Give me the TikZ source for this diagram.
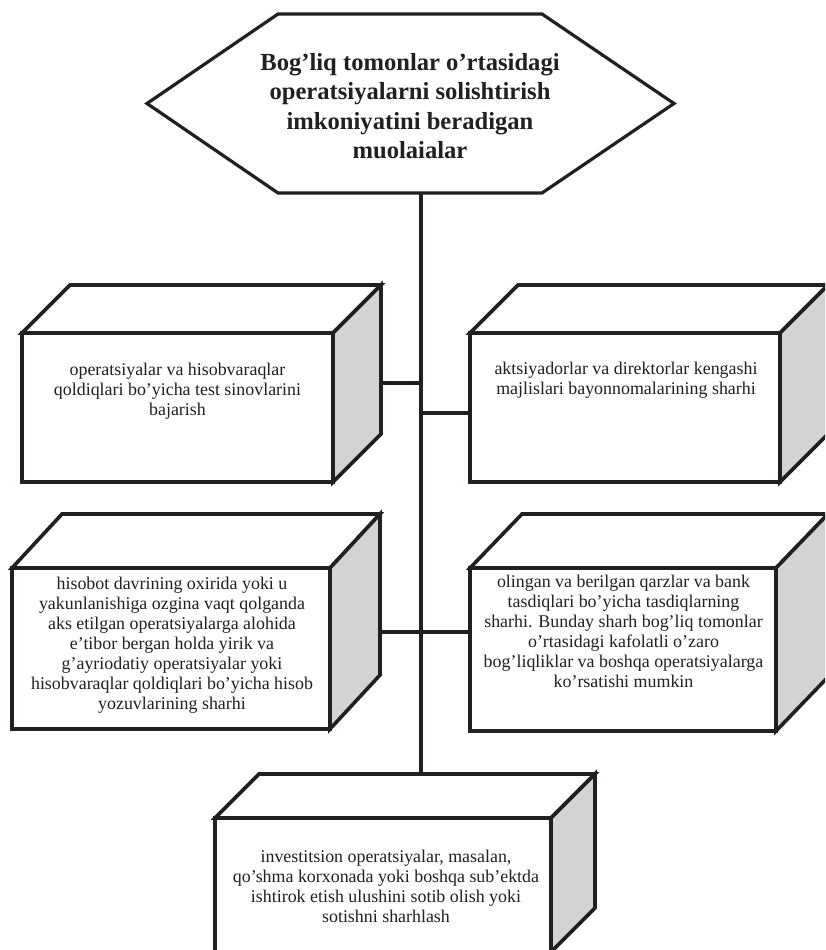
\documentclass[tikz,border=0pt]{standalone}
\usepackage{fontspec}
\setmainfont{Liberation Serif}
\usetikzlibrary{positioning}
\definecolor{ink}{HTML}{231F20}
\definecolor{shade}{RGB}{210,211,213}

\begin{document}
\begin{tikzpicture}[x=1pt, y=-1pt,
    face/.style={draw=ink, line width=3.6pt, fill=white, inner sep=0pt, outer sep=0pt},
    side/.style={draw=ink, line width=3.6pt},
    txt/.style={align=center, inner sep=0pt, text=ink, font=\fontsize{17.9}{20}\selectfont},
    link/.style={draw=ink, line width=3.2pt}]

    \useasboundingbox (0,0) rectangle (825,950);
    \clip (0,0) rectangle (825,950);

    % trunk and branches
    \coordinate (hexb) at (421,193);
    \coordinate (j1) at (381,383);
    \coordinate (j2) at (470,413);
    \coordinate (j3) at (380,632);
    \coordinate (j4) at (470,632);
    \coordinate (b5top) at (421,774);
    \draw[link] (hexb) -- (b5top);
    \draw[link] (j1) -- (j1 -| hexb);
    \draw[link] (j2 -| hexb) -- (j2);
    \draw[link] (j3) -- (j3 -| hexb);
    \draw[link] (j4 -| hexb) -- (j4);

    % title
    \draw[link, fill=white] (147,103.5) -- (278,14) -- (542,14) -- (674,103.5) -- (542,193) -- (278,193) -- cycle;
    \node[txt, font=\bfseries\fontsize{24.6}{29.3}\selectfont] (title) at (410,106)
        {Bog’liq tomonlar o’rtasidagi\\operatsiyalarni solishtirish\\imkoniyatini beradigan\\muolaialar};

    % front faces
    \node[face, minimum width=311pt, minimum height=149pt] (b1) at (177.5,407.5) {};
    \node[face, minimum width=310pt, minimum height=149pt] (b2) at (625,407.5) {};
    \node[face, minimum width=318pt, minimum height=161pt] (b3) at (171,648.5) {};
    \node[face, minimum width=306pt, minimum height=163pt] (b4) at (623,649.5) {};
    \node[face, minimum width=336pt, minimum height=134pt] (b5) at (383,885) {};

    % top and side faces
    \foreach \n/\dx/\dy in {b1/48/48, b2/48/48, b3/50/54, b4/52/54, b5/44/44} {
        \draw[side, fill=white] (\n.north west) -- ++(\dx,-\dy) -- ([shift={(\dx,-\dy)}]\n.north east) -- (\n.north east) -- cycle;
        \draw[side, fill=shade] (\n.north east) -- ([shift={(\dx,-\dy)}]\n.north east) -- ([shift={(\dx,-\dy)}]\n.south east) -- (\n.south east) -- cycle;
    }

    % texts
    \node[txt] (t1) at (177.5,391) {operatsiyalar va hisobvaraqlar\\qoldiqlari bo’yicha test sinovlarini\\bajarish};
    \node[txt] (t2) at (626,380) {aktsiyadorlar va direktorlar kengashi\\majlislari bayonnomalarining sharhi};
    \node[txt] (t3) at (172,645) {hisobot davrining oxirida yoki u\\yakunlanishiga ozgina vaqt qolganda\\aks etilgan operatsiyalarga alohida\\e’tibor bergan holda yirik va\\g’ayriodatiy operatsiyalar yoki\\hisobvaraqlar qoldiqlari bo’yicha hisob\\yozuvlarining sharhi};
    \node[txt] (t4) at (623.5,631) {olingan va berilgan qarzlar va bank\\tasdiqlari bo’yicha tasdiqlarning\\sharhi. Bunday sharh bog’liq tomonlar\\o’rtasidagi kafolatli o’zaro\\bog’liqliklar va boshqa operatsiyalarga\\ko’rsatishi mumkin};
    \node[txt] (t5) at (386,886.5) {investitsion operatsiyalar, masalan,\\qo’shma korxonada yoki boshqa sub’ektda\\ishtirok etish ulushini sotib olish yoki\\sotishni sharhlash};
\end{tikzpicture}
\end{document}
